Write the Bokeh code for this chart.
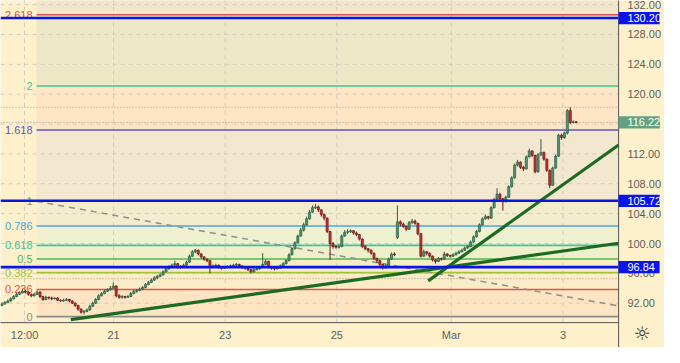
from bokeh.plotting import figure
from bokeh.models import Range1d
from bokeh.core.properties import value
from bokeh.embed import file_html
from bokeh.resources import INLINE

# ---------------- data ----------------
closes = [
    91.9, 92.1, 92.3, 92.6, 92.9, 93.2, 93.4, 93.6, 93.5, 93.2,
    93.0, 93.2, 93.5, 92.9, 92.5, 92.8, 92.7, 92.6, 92.7, 92.4,
    92.3, 92.4, 92.5, 92.3, 92.0, 91.7, 91.2, 90.8, 90.9, 91.1,
    91.6, 92.0, 92.5, 93.0, 93.3, 93.6, 93.8, 94.0, 94.3, 93.0,
    92.8, 92.9, 92.8, 92.9, 93.3, 93.6, 93.7, 93.9, 94.1, 94.5,
    94.8, 95.1, 95.4, 95.6, 95.8, 96.2, 96.6, 96.9, 97.1, 97.3,
    96.8, 96.9, 97.1, 97.5, 98.3, 98.9, 99.1, 98.6, 98.2, 97.9,
    97.7, 96.9, 97.0, 97.1, 96.8, 96.7, 96.8, 96.9, 97.0, 97.1,
    97.2, 97.0, 96.8, 96.7, 96.5, 96.2, 96.5, 96.6, 96.8, 97.2,
    97.6, 96.9, 96.7, 96.6, 96.7, 97.0, 97.3, 97.7, 98.5, 99.3,
    100.1, 101.0, 101.8, 102.5, 103.3, 104.2, 104.8, 104.9, 104.5, 103.9,
    103.4, 101.6, 100.0, 99.6, 99.5, 99.6, 101.0, 101.5, 101.6, 101.7,
    101.4, 101.2, 100.6, 99.6, 99.3, 99.1, 98.7, 98.0, 97.7, 97.2,
    96.8, 97.0, 97.9, 98.6, 98.5, 102.9, 102.6, 102.3, 101.9, 102.8,
    103.0, 102.7, 101.3, 98.3, 98.9, 98.7, 98.3, 97.8, 97.6, 98.0,
    97.9, 98.6, 98.4, 98.3, 98.5, 98.7, 98.9, 99.1, 99.4, 99.6,
    100.2, 100.9, 101.6, 102.5, 103.3, 103.6, 103.4, 104.8, 105.9, 106.6,
    106.0, 105.6, 106.2, 107.6, 108.8, 110.5, 110.9, 110.2, 110.0, 111.6,
    112.4, 111.8, 109.6, 111.9, 112.2, 111.3, 109.8, 107.8, 110.1, 111.7,
    114.5, 114.2, 114.8, 117.8, 116.2, 116.3, 116.22,
]
highs = [
    92.1, 92.3, 92.5, 92.8, 93.1, 93.4, 93.6, 93.9, 93.8, 93.6,
    93.3, 93.4, 93.7, 93.6, 93.0, 93.0, 92.9, 92.9, 92.8, 92.8,
    92.5, 92.6, 92.7, 92.6, 92.4, 92.1, 91.8, 91.3, 91.1, 91.3,
    91.8, 92.2, 92.7, 93.2, 93.5, 93.8, 94.0, 94.3, 94.8, 94.4,
    93.2, 93.1, 93.0, 93.1, 93.5, 93.8, 93.9, 94.1, 94.3, 94.7,
    95.0, 95.3, 95.6, 95.8, 96.0, 96.4, 96.8, 97.1, 97.3, 97.7,
    97.4, 97.1, 97.3, 97.7, 98.5, 99.1, 99.3, 99.2, 98.7, 98.3,
    98.0, 97.8, 97.2, 97.3, 97.2, 96.9, 97.0, 97.1, 97.2, 97.3,
    97.4, 97.3, 97.1, 96.9, 96.8, 96.6, 96.7, 96.8, 97.0, 98.7,
    97.9, 97.7, 97.0, 96.9, 96.9, 97.2, 97.5, 97.9, 98.7, 99.5,
    100.3, 101.2, 102.1, 102.8, 103.6, 104.5, 105.1, 105.3, 105.1, 104.6,
    104.0, 103.5, 101.7, 100.2, 99.8, 99.9, 101.2, 101.8, 101.9, 101.9,
    101.8, 101.6, 101.3, 100.7, 99.8, 99.4, 99.2, 98.8, 98.1, 97.8,
    97.3, 97.2, 98.1, 98.8, 98.8, 105.1, 103.1, 102.8, 102.4, 103.0,
    103.3, 103.2, 102.8, 101.4, 99.2, 99.0, 98.8, 98.4, 97.9, 98.2,
    98.1, 98.9, 98.7, 98.5, 98.7, 98.9, 99.1, 99.3, 99.6, 99.8,
    100.4, 101.1, 101.8, 102.7, 103.5, 103.9, 103.7, 105.0, 106.1, 107.4,
    106.8, 106.1, 106.4, 107.8, 109.0, 110.7, 111.2, 111.0, 110.4, 111.8,
    112.7, 112.5, 111.9, 112.1, 114.0, 112.3, 111.4, 109.9, 110.3, 111.9,
    114.7, 114.7, 115.0, 118.0, 118.25, 116.5, 116.4,
]
lows = [
    91.6, 91.8, 92.0, 92.2, 92.5, 92.8, 93.1, 93.3, 93.3, 93.0,
    92.8, 92.9, 93.1, 92.7, 92.3, 92.4, 92.5, 92.4, 92.5, 92.3,
    92.2, 92.2, 92.3, 92.1, 91.9, 91.5, 91.0, 90.6, 90.5, 90.8,
    91.0, 91.5, 91.9, 92.4, 92.9, 93.2, 93.5, 93.7, 93.9, 92.8,
    92.6, 92.6, 92.6, 92.7, 92.8, 93.2, 93.4, 93.6, 93.8, 94.0,
    94.4, 94.7, 95.0, 95.2, 95.5, 95.7, 96.1, 96.5, 96.8, 97.0,
    96.6, 96.6, 96.8, 97.0, 97.4, 98.2, 98.7, 98.4, 98.0, 97.7,
    97.5, 96.0, 96.7, 96.8, 96.6, 96.5, 96.6, 96.7, 96.8, 96.9,
    97.0, 96.8, 96.6, 96.5, 96.3, 96.0, 96.1, 96.4, 96.5, 96.7,
    97.1, 96.7, 96.5, 96.4, 96.5, 96.6, 96.9, 97.2, 97.6, 98.4,
    99.2, 100.0, 100.9, 101.6, 102.4, 103.2, 104.1, 104.6, 104.2, 103.6,
    103.1, 101.4, 97.8, 99.3, 99.3, 99.3, 99.5, 100.9, 101.3, 101.4,
    101.2, 101.0, 100.4, 99.4, 99.1, 98.8, 98.5, 97.8, 97.4, 97.0,
    96.5, 96.6, 96.9, 97.8, 98.3, 100.6, 102.3, 102.1, 101.7, 101.8,
    102.6, 102.5, 101.1, 98.1, 98.2, 98.4, 98.1, 97.6, 97.3, 97.5,
    97.7, 97.8, 98.2, 98.1, 98.2, 98.4, 98.6, 98.8, 99.0, 99.3,
    99.5, 100.1, 100.8, 101.5, 102.4, 103.2, 103.2, 103.3, 104.7, 105.8,
    105.8, 104.4, 105.5, 106.1, 107.5, 108.7, 110.3, 110.0, 109.7, 109.9,
    111.5, 111.6, 109.4, 109.5, 111.7, 111.1, 109.6, 107.4, 107.7, 110.0,
    111.6, 113.9, 114.0, 114.6, 116.0, 116.1, 116.1,
]
first_open = 91.7
gap_open_index = 135
gap_open_value = 100.8

x_tick_pos = [7.7, 38.1, 76.2, 114.3, 153.4, 191.5]
x_tick_labels = ["12:00", "21", "23", "25", "Mar", "3"]
y_tick_pos = [92, 96, 100, 104, 108, 112, 116, 120, 124, 128, 132]
y_tick_labels = ["92.00", "96.00", "100.00", "104.00", "108.00", "112.00",
                 "116.00", "120.00", "124.00", "128.00", "132.00"]

fib_ratios = [0, 0.236, 0.382, 0.5, 0.618, 0.786, 1, 1.618, 2, 2.618]
fib_texts = ["0", "0.236", "0.382", "0.5", "0.618", "0.786", "1", "1.618", "2", "2.618"]
fib_price0 = 90.2
fib_price1 = 105.65
fib_start_x = 11.8
fib_diag_end_x = 230.8

blue_levels = [130.20, 105.72, 96.84]
blue_texts = ["130.20", "105.72", "96.84"]
last_price = 116.22
last_text = "116.22"
dotted_levels = [118.25, 116.22, 95.3]

trend_x0 = [23.5, 145.5]
trend_y0 = [89.8, 95.0]
trend_x1 = [210.5, 210.5]
trend_y1 = [100.03, 113.2]

# ---------------- styles / layout ----------------
BG = "#fdf0cb"
fib_line_colors = ["#8c8c8c", "#e0554d", "#a3c43a", "#52b84c", "#3cc39a",
                   "#4ea5dc", "#8c8c8c", "#5b55c9", "#3cc890", "#dc5050"]
fib_zone_colors = ["#fde4c2", "#fbebc6", "#f6efc5", "#eff0cb", "#eff0cf",
                   "#f3edcf", "#f3e7cf", "#fde5c5", "#ede6c7", "#f1e6c9"]
FONT = "Liberation Sans"

X0, X1 = -0.5, 210.5          # price pane
XR = 226.17                   # right edge of price scale
Y0, Y1 = 89.4, 132.55         # price pane
YB = 86.07                    # bottom edge of time scale
BOX_W = 14.0
BOX_H = 0.82
LBL_X = 213.5
TIME_Y = 87.73
ICON_Y = 87.95

p = figure(width=664, height=347, x_range=Range1d(X0, XR), y_range=Range1d(YB, Y1),
           output_backend="svg", toolbar_location=None,
           x_axis_location=None, y_axis_location=None,
           min_border=0)
p.background_fill_color = BG
p.border_fill_color = BG
p.outline_line_color = None
p.grid.visible = False

# fib zones
span = fib_price1 - fib_price0
lvl = [fib_price0 + r * span for r in fib_ratios]
zb = lvl[:]
zt = lvl[1:] + [Y1 + 1]
p.quad(left=[fib_start_x] * len(zb), right=[X1] * len(zb), bottom=zb, top=zt,
       fill_color=fib_zone_colors, line_color=None)

# grid (dashed)
p.segment(x0=x_tick_pos, y0=[Y0] * len(x_tick_pos), x1=x_tick_pos, y1=[Y1 + 1] * len(x_tick_pos),
          line_color="#d2cdbf", line_width=1, line_dash="4 4")
p.segment(x0=[X0] * len(y_tick_pos), y0=y_tick_pos, x1=[X1] * len(y_tick_pos), y1=y_tick_pos,
          line_color="#d2cdbf", line_width=1, line_dash="4 4")

# dotted price lines
p.segment(x0=[X0] * len(dotted_levels), y0=dotted_levels, x1=[X1] * len(dotted_levels),
          y1=dotted_levels, line_color="#a39c8a", line_width=1, line_dash="1 2")

# fib lines & labels
p.segment(x0=[fib_start_x] * len(lvl), y0=lvl, x1=[X1] * len(lvl), y1=lvl,
          line_color=fib_line_colors, line_width=1.6)
p.text(x=[fib_start_x] * len(lvl), y=lvl, text=fib_texts, text_color=fib_line_colors,
       text_align="right", text_baseline="middle", x_offset=-4,
       text_font=value(FONT), text_font_size="11px")
slope = (fib_price0 - fib_price1) / (fib_diag_end_x - fib_start_x)
p.segment(x0=[fib_start_x], y0=[fib_price1], x1=[X1],
          y1=[fib_price1 + slope * (X1 - fib_start_x)],
          line_color="#8e8e8e", line_width=1.5, line_dash="6 5")

# candles
opens = [first_open] + closes[:-1]
opens[gap_open_index] = gap_open_value
idx = list(range(len(closes)))
up = [c >= o for o, c in zip(opens, closes)]
src = dict(
    x=idx,
    top=[max(o, c) for o, c in zip(opens, closes)],
    bottom=[min(o, c) for o, c in zip(opens, closes)],
    high=highs, low=lows,
    fill=["#4f9571" if u else "#c8302d" for u in up],
    line=["#2c5c44" if u else "#6a1b1b" for u in up],
)
p.segment(x0="x", y0="low", x1="x", y1="high", line_color="line", line_width=1, source=src)
p.vbar(x="x", width=0.72, top="top", bottom="bottom", fill_color="fill",
       line_color="line", line_width=0.7, source=src)

# trend lines
p.segment(x0=trend_x0, y0=trend_y0, x1=trend_x1, y1=trend_y1,
          line_color="#1e6a22", line_width=3.2)

# blue horizontal levels
p.segment(x0=[X0] * len(blue_levels), y0=blue_levels, x1=[X1] * len(blue_levels),
          y1=blue_levels, line_color="#0a14e6", line_width=2.6)

# scale lines
p.segment(x0=[X1], y0=[YB - 1], x1=[X1], y1=[Y1 + 1], line_color="#555555", line_width=1)
p.segment(x0=[X0 - 1], y0=[Y0], x1=[X1], y1=[Y0], line_color="#555555", line_width=1)

# price scale labels
p.text(x=[LBL_X] * len(y_tick_pos), y=y_tick_pos, text=y_tick_labels, text_color="#5f5f5f",
       text_align="left", text_baseline="middle", text_font=value(FONT), text_font_size="11px")
# time scale labels
p.text(x=x_tick_pos, y=[TIME_Y] * len(x_tick_pos), text=x_tick_labels, text_color="#5f5f5f",
       text_align="center", text_baseline="middle", text_font=value(FONT), text_font_size="11px")

# price boxes
box_vals = blue_levels + [last_price]
box_texts = blue_texts + [last_text]
box_cols = ["#0a14f0"] * len(blue_levels) + ["#62a27f"]
p.quad(left=[X1] * len(box_vals), right=[X1 + BOX_W] * len(box_vals),
       bottom=[v - BOX_H for v in box_vals], top=[v + BOX_H for v in box_vals],
       fill_color=box_cols, line_color=None)
p.text(x=[LBL_X] * len(box_vals), y=box_vals, text=box_texts, text_color="white",
       text_align="left", text_baseline="middle", text_font=value(FONT), text_font_size="11px")

# settings icon
p.text(x=[218.5], y=[ICON_Y], text=["\u263c"], text_color="#333333", text_align="center",
       text_baseline="middle", text_font=value("DejaVu Sans"), text_font_size="19px")

open("out.html", "w").write(file_html(p, INLINE))
